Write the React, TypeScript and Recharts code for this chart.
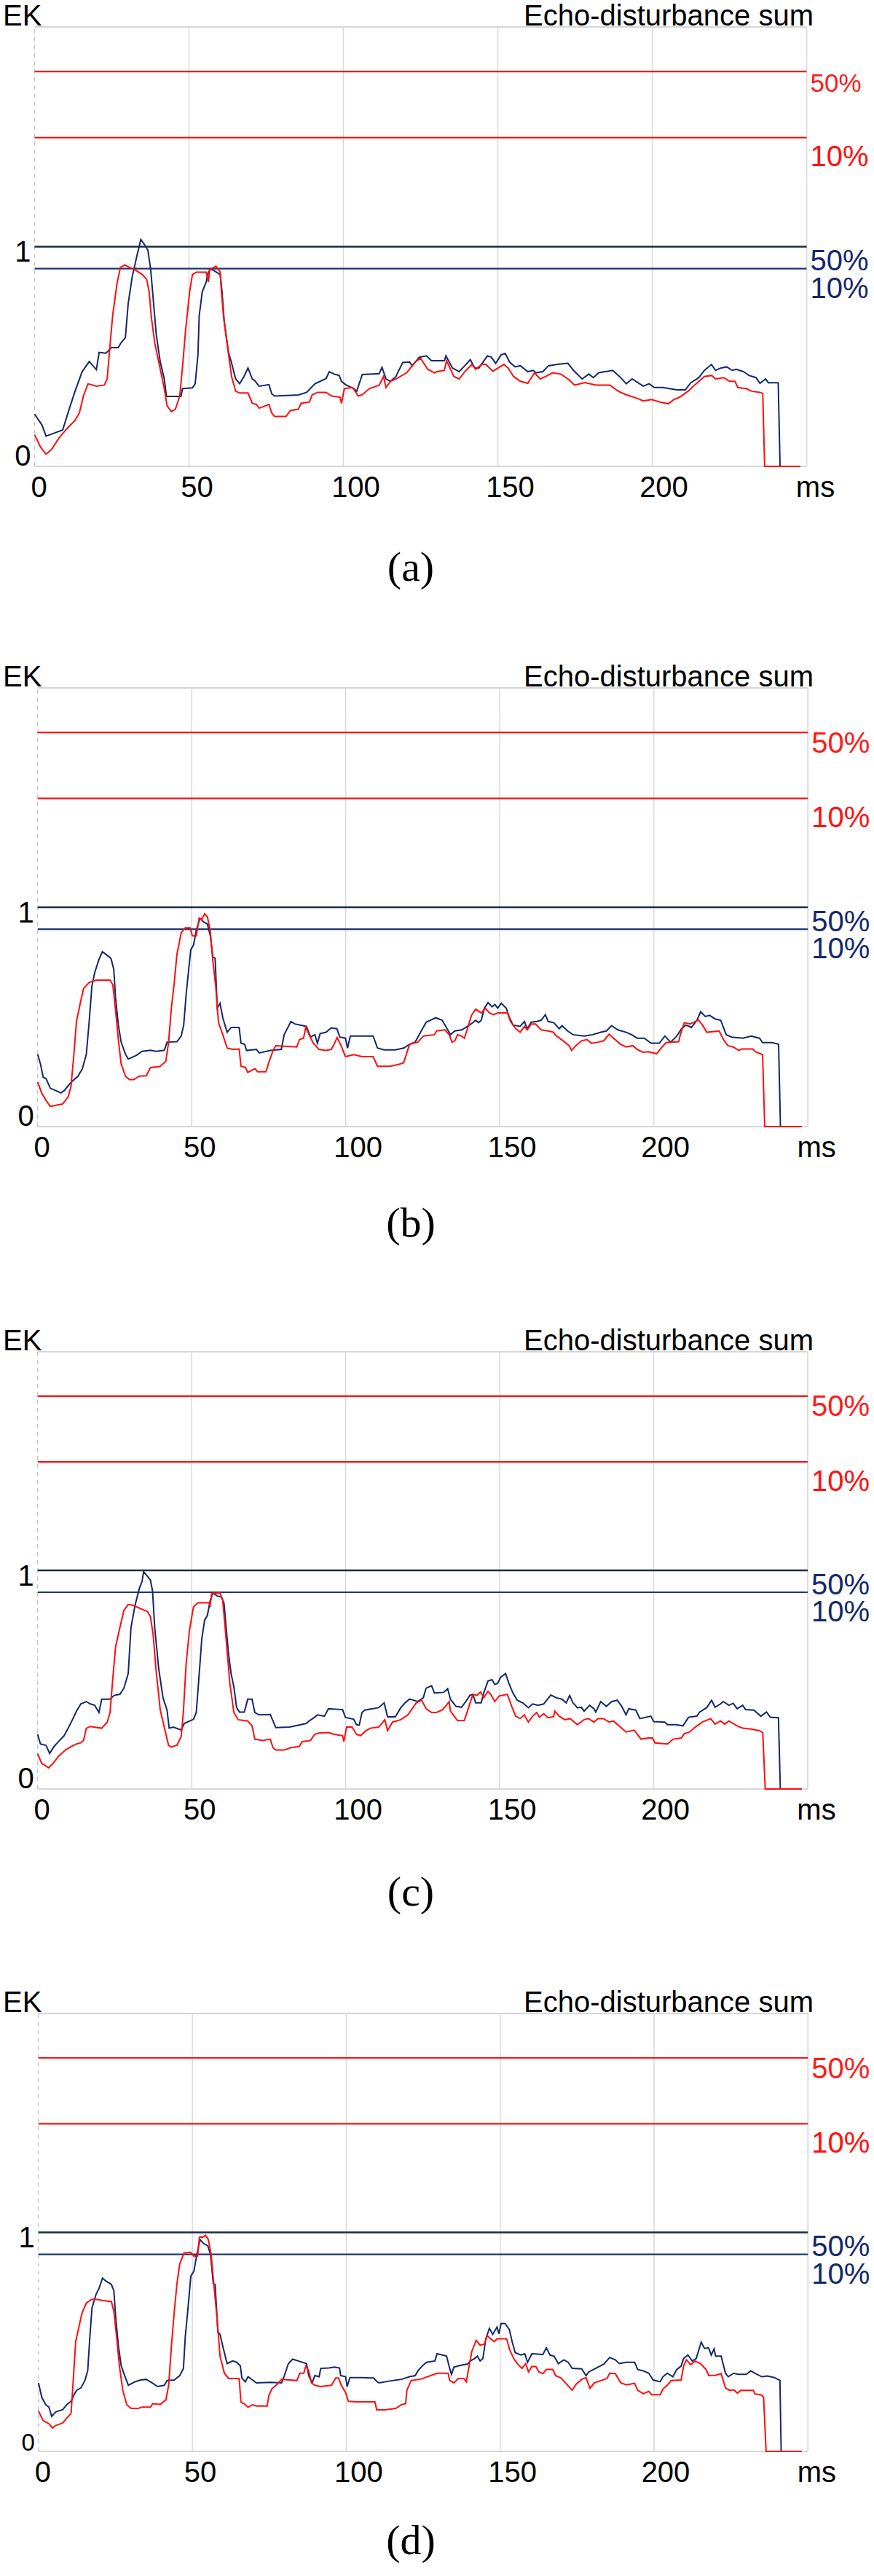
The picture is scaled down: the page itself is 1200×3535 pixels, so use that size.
import React from 'react';
import { LineChart, Line, XAxis, YAxis, ReferenceLine, CartesianGrid } from 'recharts';

type P = [number, number];

// ---------- panel (a) ----------
const blueA: P[] = [
  [0, 0.238], [2.4, 0.188], [3.7, 0.138], [5.9, 0.149], [9.1, 0.166], [11.3, 0.265], [13.1, 0.342], [15.4, 0.431],
  [17.7, 0.477], [20.0, 0.44], [20.9, 0.519], [23.1, 0.515], [24.9, 0.541], [27.1, 0.541], [28.0, 0.563], [29.4, 0.586],
  [30.3, 0.74], [31.6, 0.862], [33.0, 0.95], [34.4, 1.033], [35.8, 1.005], [36.7, 0.983], [37.6, 0.895], [39.4, 0.6],
  [40.7, 0.475], [42.0, 0.398], [42.7, 0.318], [47.4, 0.318], [47.9, 0.354], [51.1, 0.357], [52.0, 0.376], [52.9, 0.508],
  [53.3, 0.685], [54.3, 0.795], [55.6, 0.84], [56.0, 0.873], [56.9, 0.9], [58.3, 0.889], [60.1, 0.873], [60.7, 0.795],
  [61.4, 0.66], [62.8, 0.519], [63.7, 0.475], [65.1, 0.398], [66.4, 0.376], [67.8, 0.409], [69.1, 0.448], [70.5, 0.398],
  [71.3, 0.39], [72.7, 0.365], [75.9, 0.372], [76.8, 0.33], [77.7, 0.32], [85.4, 0.325], [88.1, 0.337], [90.8, 0.376],
  [94.4, 0.4], [95.4, 0.431], [97.0, 0.42], [98.6, 0.414], [99.4, 0.387], [100.7, 0.372], [103.4, 0.354], [104.3, 0.342],
  [106.1, 0.418], [111.6, 0.422], [112.5, 0.451], [113.8, 0.398], [115.2, 0.387], [117.0, 0.409], [119.2, 0.473],
  [121.4, 0.475], [122.3, 0.458], [124.6, 0.497], [126.9, 0.503], [128.5, 0.481], [130.3, 0.481], [132.7, 0.481],
  [133.2, 0.503], [135.3, 0.448], [137.5, 0.431], [139.3, 0.458], [141.1, 0.486], [142.5, 0.448], [143.9, 0.448],
  [146.6, 0.503], [147.9, 0.497], [149.3, 0.469], [151.1, 0.508], [152.4, 0.514], [153.8, 0.475], [155.6, 0.453],
  [157.3, 0.458], [159.7, 0.431], [161.5, 0.437], [162.3, 0.426], [164.6, 0.431], [166.4, 0.458], [169.1, 0.464],
  [172.7, 0.469], [174.5, 0.437], [177.3, 0.398], [179.5, 0.42], [180.9, 0.404], [182.7, 0.426], [187.2, 0.437],
  [189.4, 0.409], [191.6, 0.376], [193.5, 0.398], [197.1, 0.365], [199.0, 0.376], [200.7, 0.359], [203.4, 0.359],
  [208.0, 0.348], [210.7, 0.348], [212.5, 0.381], [215.1, 0.404], [216.9, 0.437], [219.2, 0.464], [220.5, 0.437],
  [222.3, 0.448], [224.1, 0.453], [225.9, 0.437], [227.2, 0.442], [229.6, 0.431], [231.3, 0.414], [233.6, 0.404],
  [234.9, 0.378], [236.7, 0.398], [237.6, 0.381], [240.8, 0.381], [241.4, 0], [248, 0],
];
const redA: P[] = [
  [0, 0.144], [1.9, 0.088], [3.7, 0.055], [5.5, 0.077], [7.8, 0.127], [10.4, 0.171], [13.1, 0.21], [14.5, 0.243],
  [15.8, 0.32], [17.3, 0.376], [20.0, 0.365], [22.6, 0.37], [23.5, 0.398], [24.5, 0.563], [25.3, 0.69], [25.8, 0.74],
  [26.7, 0.834], [27.8, 0.906], [29.2, 0.917], [30.7, 0.906], [32.5, 0.895], [34.9, 0.873], [36.3, 0.851], [37.1, 0.795],
  [37.8, 0.68], [38.9, 0.563], [40.7, 0.442], [42.0, 0.354], [42.9, 0.276], [44.3, 0.249], [45.6, 0.26], [47.0, 0.32],
  [47.9, 0.453], [48.9, 0.62], [50.2, 0.795], [51.1, 0.873], [52.4, 0.884], [55.6, 0.884], [56.3, 0.84], [56.7, 0.895],
  [58.7, 0.911], [60.1, 0.884], [60.5, 0.795], [61.2, 0.68], [62.3, 0.563], [63.8, 0.409], [65.1, 0.342], [66.4, 0.334],
  [69.1, 0.334], [70.5, 0.287], [71.8, 0.282], [72.7, 0.265], [75.9, 0.282], [76.8, 0.243], [77.7, 0.227], [81.4, 0.227],
  [82.8, 0.254], [85.4, 0.26], [86.3, 0.287], [89.0, 0.293], [89.9, 0.326], [91.7, 0.337], [94.4, 0.337], [96.2, 0.32],
  [98.9, 0.315], [99.4, 0.287], [100.3, 0.354], [103.0, 0.359], [104.8, 0.32], [106.1, 0.326], [108.4, 0.354],
  [111.6, 0.37], [113.0, 0.409], [113.8, 0.359], [115.2, 0.387], [117.0, 0.398], [120.5, 0.426], [123.2, 0.475],
  [125.0, 0.492], [127.3, 0.442], [129.5, 0.426], [130.3, 0.431], [132.7, 0.437], [133.4, 0.481], [135.8, 0.409],
  [137.5, 0.398], [139.3, 0.431], [141.6, 0.464], [142.9, 0.442], [144.8, 0.464], [146.1, 0.464], [148.4, 0.433],
  [152.0, 0.464], [153.3, 0.448], [155.1, 0.409], [157.3, 0.387], [159.7, 0.378], [161.9, 0.426], [163.7, 0.398],
  [165.5, 0.409], [167.7, 0.426], [170.4, 0.42], [172.7, 0.398], [174.9, 0.37], [178.2, 0.381], [181.8, 0.37],
  [186.3, 0.37], [189.0, 0.342], [191.6, 0.326], [195.3, 0.309], [197.1, 0.298], [199.8, 0.304], [202.5, 0.293],
  [205.2, 0.285], [207.0, 0.304], [208.9, 0.315], [211.6, 0.342], [214.2, 0.376], [216.9, 0.409], [219.2, 0.414],
  [220.5, 0.398], [223.2, 0.404], [225.0, 0.387], [226.8, 0.387], [227.7, 0.359], [230.5, 0.354], [232.2, 0.342],
  [234.9, 0.337], [235.8, 0.331], [236.4, 0], [248, 0],
];

// ---------- panel (b) ----------
const blueB: P[] = [
  [0, 0.33], [0.9, 0.286], [1.8, 0.225], [2.7, 0.219], [4.1, 0.175], [5.9, 0.164], [7.5, 0.153], [8.6, 0.164],
  [9.9, 0.186], [11.3, 0.208], [13.1, 0.23], [14.5, 0.263], [15.8, 0.33], [16.7, 0.474], [17.6, 0.64], [18.5, 0.701],
  [19.9, 0.762], [21.0, 0.797], [22.1, 0.786], [23.8, 0.767], [24.7, 0.718], [25.3, 0.585], [26.2, 0.463], [27.1, 0.385],
  [28.5, 0.33], [29.4, 0.308], [32.1, 0.325], [33.9, 0.343], [36.6, 0.348], [38.4, 0.343], [41.1, 0.348], [42.0, 0.385],
  [45.2, 0.387], [46.6, 0.413], [47.4, 0.463], [48.3, 0.618], [49.7, 0.806], [50.6, 0.828], [51.5, 0.895], [52.7, 0.95],
  [53.8, 0.934], [55.1, 0.923], [56.0, 0.873], [56.9, 0.773], [57.6, 0.768], [58.3, 0.54], [59.2, 0.562], [60.1, 0.496],
  [61.5, 0.43], [62.8, 0.452], [65.4, 0.452], [66.0, 0.38], [67.2, 0.375], [67.8, 0.347], [71.0, 0.352], [71.9, 0.336],
  [75.5, 0.347], [79.1, 0.352], [80.0, 0.419], [82.2, 0.479], [83.5, 0.468], [87.2, 0.457], [88.6, 0.408], [90.0, 0.419],
  [90.8, 0.38], [91.7, 0.424], [93.6, 0.43], [95.3, 0.45], [97.1, 0.446], [98.1, 0.408], [99.9, 0.403], [100.6, 0.358],
  [101.5, 0.413], [108.9, 0.413], [110.3, 0.358], [112.5, 0.35], [116.1, 0.35], [118.8, 0.358], [120.7, 0.375],
  [122.5, 0.385], [124.3, 0.43], [126.1, 0.476], [129.2, 0.496], [131.3, 0.485], [133.1, 0.441], [134.0, 0.419],
  [135.4, 0.436], [137.6, 0.441], [139.0, 0.452], [141.3, 0.474], [142.2, 0.485], [143.1, 0.474], [144.0, 0.485],
  [145.0, 0.54], [146.2, 0.565], [147.5, 0.546], [148.4, 0.557], [149.3, 0.54], [150.5, 0.562], [152.1, 0.54],
  [153.0, 0.502], [154.3, 0.463], [156.6, 0.457], [158.0, 0.479], [158.9, 0.446], [160.2, 0.476], [162.0, 0.479],
  [163.4, 0.485], [164.8, 0.51], [165.7, 0.479], [167.5, 0.474], [169.3, 0.446], [170.2, 0.46], [172.0, 0.436],
  [173.8, 0.419], [177.4, 0.413], [180.1, 0.419], [182.8, 0.43], [184.6, 0.436], [186.3, 0.46], [188.3, 0.441],
  [191.0, 0.43], [192.8, 0.419], [194.6, 0.403], [196.9, 0.403], [199.1, 0.38], [201.8, 0.38], [203.6, 0.413],
  [205.4, 0.385], [207.2, 0.408], [209.0, 0.446], [210.4, 0.463], [212.2, 0.452], [214.0, 0.485], [215.2, 0.524],
  [216.7, 0.502], [218.1, 0.507], [219.9, 0.491], [221.7, 0.485], [223.5, 0.419], [225.3, 0.408], [228.9, 0.403],
  [231.6, 0.413], [234.3, 0.403], [235.3, 0.383], [238.4, 0.383], [240.5, 0.375], [241.1, 0], [248, 0],
];
const redB: P[] = [
  [0, 0.203], [1.3, 0.153], [2.7, 0.12], [4.1, 0.092], [5.9, 0.097], [8.1, 0.103], [9.9, 0.136], [10.8, 0.181],
  [11.7, 0.319], [12.6, 0.479], [14.0, 0.574], [14.9, 0.629], [16.7, 0.657], [19.0, 0.668], [23.5, 0.668], [24.4, 0.646],
  [25.3, 0.529], [26.2, 0.396], [27.1, 0.286], [28.5, 0.23], [29.8, 0.214], [31.2, 0.214], [33.0, 0.23], [35.3, 0.232],
  [36.6, 0.269], [39.7, 0.274], [41.6, 0.297], [42.5, 0.385], [43.4, 0.54], [44.3, 0.651], [45.2, 0.784], [46.6, 0.884],
  [47.9, 0.906], [49.5, 0.906], [50.2, 0.87], [51.5, 0.87], [52.4, 0.95], [53.3, 0.945], [54.2, 0.97], [55.1, 0.956],
  [56.0, 0.895], [56.9, 0.751], [57.8, 0.64], [58.7, 0.474], [60.1, 0.419], [61.5, 0.358], [63.3, 0.352], [65.4, 0.354],
  [66.0, 0.275], [67.4, 0.27], [68.2, 0.247], [70.5, 0.264], [71.4, 0.25], [74.1, 0.25], [75.0, 0.291], [76.4, 0.347],
  [77.3, 0.369], [84.1, 0.363], [85.0, 0.397], [86.3, 0.403], [87.0, 0.452], [88.1, 0.419], [89.5, 0.38], [91.3, 0.352],
  [93.6, 0.347], [95.3, 0.352], [96.2, 0.375], [97.2, 0.406], [98.5, 0.369], [99.9, 0.319], [102.6, 0.328],
  [105.3, 0.319], [108.9, 0.319], [110.3, 0.275], [114.3, 0.275], [117.1, 0.283], [118.8, 0.291], [119.7, 0.33],
  [120.7, 0.375], [123.4, 0.385], [125.2, 0.413], [128.8, 0.419], [129.5, 0.436], [132.2, 0.441], [133.6, 0.419],
  [134.5, 0.385], [135.4, 0.391], [136.3, 0.419], [137.6, 0.413], [138.5, 0.403], [139.4, 0.441], [140.8, 0.507],
  [142.2, 0.535], [144.0, 0.518], [145.3, 0.54], [146.7, 0.518], [148.0, 0.51], [149.4, 0.518], [152.5, 0.518],
  [153.5, 0.479], [155.2, 0.446], [156.6, 0.43], [158.0, 0.457], [158.9, 0.441], [160.2, 0.468], [161.6, 0.468],
  [163.4, 0.441], [165.7, 0.436], [167.5, 0.43], [167.9, 0.419], [171.1, 0.385], [172.5, 0.369], [173.3, 0.347],
  [174.7, 0.369], [176.5, 0.391], [178.3, 0.397], [179.7, 0.38], [181.9, 0.385], [183.7, 0.391], [185.5, 0.421],
  [187.4, 0.397], [189.2, 0.375], [191.0, 0.363], [193.2, 0.369], [194.6, 0.352], [196.4, 0.339], [198.2, 0.341],
  [200.9, 0.332], [202.7, 0.363], [204.0, 0.383], [208.1, 0.387], [208.6, 0.419], [209.9, 0.474], [211.7, 0.468],
  [213.5, 0.479], [214.4, 0.487], [215.8, 0.463], [217.2, 0.43], [221.2, 0.436], [222.6, 0.397], [224.0, 0.369],
  [225.8, 0.363], [227.6, 0.347], [228.5, 0.354], [232.1, 0.354], [233.0, 0.341], [235.3, 0.328], [236.0, 0], [248, 0],
];

// ---------- panel (c) ----------
const blueC: P[] = [
  [0, 0.25], [0.9, 0.206], [2.7, 0.2], [3.9, 0.163], [5.4, 0.196], [6.8, 0.217], [8.6, 0.244], [9.9, 0.278],
  [11.3, 0.317], [12.6, 0.356], [14.0, 0.389], [15.8, 0.4], [17.1, 0.389], [18.5, 0.383], [19.9, 0.35], [20.8, 0.411],
  [23.5, 0.411], [24.8, 0.428], [26.7, 0.433], [28.0, 0.461], [29.4, 0.528], [30.3, 0.739], [31.6, 0.839], [33.0, 0.917],
  [33.9, 0.95], [34.4, 0.994], [35.7, 0.972], [36.6, 0.956], [37.3, 0.906], [38.0, 0.739], [39.3, 0.55], [40.7, 0.417],
  [42.0, 0.361], [42.7, 0.278], [44.0, 0.283], [46.6, 0.27], [47.6, 0.3], [50.6, 0.319], [51.5, 0.35], [52.4, 0.517],
  [53.3, 0.689], [54.2, 0.772], [55.1, 0.794], [56.0, 0.861], [56.9, 0.897], [58.3, 0.883], [59.7, 0.878], [60.5, 0.85],
  [61.9, 0.628], [62.8, 0.528], [63.7, 0.467], [64.6, 0.372], [65.5, 0.352], [67.1, 0.352], [68.2, 0.411], [69.6, 0.411],
  [70.5, 0.35], [71.9, 0.339], [75.5, 0.341], [76.4, 0.311], [77.3, 0.281], [81.8, 0.283], [85.4, 0.294], [87.2, 0.3],
  [88.1, 0.311], [89.9, 0.328], [90.8, 0.339], [93.1, 0.333], [94.4, 0.367], [99.0, 0.363], [99.9, 0.328],
  [102.6, 0.319], [103.5, 0.294], [104.4, 0.292], [105.3, 0.35], [106.2, 0.361], [110.7, 0.372], [112.5, 0.394],
  [113.6, 0.33], [116.1, 0.33], [117.9, 0.372], [119.3, 0.394], [120.7, 0.411], [121.6, 0.408], [123.4, 0.4],
  [125.2, 0.417], [126.1, 0.461], [127.9, 0.472], [128.8, 0.439], [131.8, 0.442], [133.1, 0.459], [134.0, 0.411],
  [135.8, 0.378], [137.6, 0.374], [139.0, 0.4], [140.3, 0.428], [141.3, 0.433], [142.2, 0.394], [144.0, 0.394],
  [144.8, 0.439], [146.2, 0.494], [147.5, 0.5], [148.4, 0.478], [149.3, 0.483], [150.3, 0.511], [151.9, 0.528],
  [153.0, 0.483], [154.3, 0.439], [155.7, 0.406], [157.5, 0.394], [159.3, 0.372], [160.7, 0.389], [162.5, 0.383],
  [164.3, 0.389], [166.6, 0.43], [168.4, 0.417], [170.2, 0.411], [171.6, 0.394], [172.7, 0.428], [173.8, 0.394],
  [175.2, 0.372], [176.5, 0.374], [177.4, 0.356], [179.2, 0.383], [180.6, 0.367], [181.2, 0.352], [182.8, 0.4],
  [184.6, 0.378], [186.4, 0.4], [188.2, 0.406], [189.6, 0.378], [191.0, 0.339], [191.9, 0.367], [194.2, 0.361],
  [195.5, 0.322], [199.1, 0.333], [200.0, 0.308], [203.6, 0.306], [204.5, 0.294], [207.2, 0.294], [209.5, 0.289],
  [211.3, 0.328], [214.0, 0.333], [214.9, 0.352], [217.2, 0.372], [218.8, 0.406], [219.9, 0.374], [221.7, 0.389],
  [222.6, 0.4], [224.4, 0.383], [225.8, 0.392], [227.1, 0.367], [228.9, 0.383], [229.8, 0.363], [232.5, 0.361],
  [234.8, 0.333], [236.6, 0.352], [237.9, 0.328], [240.5, 0.326], [241.1, 0], [248, 0],
];
const redC: P[] = [
  [0, 0.161], [1.3, 0.117], [3.6, 0.097], [5.0, 0.117], [6.8, 0.15], [9.0, 0.178], [10.8, 0.194], [12.6, 0.206],
  [14.0, 0.211], [14.9, 0.222], [15.8, 0.278], [17.1, 0.286], [20.8, 0.278], [22.6, 0.306], [23.5, 0.35], [24.4, 0.506],
  [25.3, 0.65], [26.7, 0.739], [28.0, 0.817], [29.4, 0.844], [31.2, 0.839], [33.9, 0.822], [35.7, 0.811], [36.6, 0.789],
  [37.5, 0.706], [38.4, 0.55], [39.8, 0.361], [41.1, 0.283], [42.5, 0.2], [43.4, 0.192], [45.2, 0.2], [46.6, 0.239],
  [47.3, 0.35], [48.2, 0.572], [49.3, 0.728], [50.6, 0.833], [52.0, 0.852], [55.6, 0.852], [56.0, 0.839], [56.5, 0.894],
  [59.2, 0.897], [60.1, 0.861], [61.0, 0.717], [62.4, 0.483], [63.7, 0.35], [65.1, 0.317], [68.2, 0.311], [69.6, 0.289],
  [70.5, 0.228], [73.2, 0.222], [75.5, 0.228], [76.4, 0.189], [77.3, 0.178], [80.0, 0.178], [82.2, 0.189], [84.9, 0.194],
  [85.9, 0.217], [88.6, 0.222], [89.9, 0.25], [91.3, 0.256], [94.4, 0.258], [96.2, 0.25], [99.0, 0.244], [99.4, 0.217],
  [100.3, 0.283], [102.1, 0.283], [103.5, 0.25], [104.8, 0.244], [106.6, 0.267], [108.0, 0.278], [110.7, 0.283],
  [112.1, 0.306], [112.7, 0.317], [113.6, 0.267], [115.2, 0.306], [117.9, 0.317], [120.2, 0.339], [121.6, 0.367],
  [122.9, 0.394], [124.7, 0.406], [126.1, 0.367], [127.9, 0.35], [129.5, 0.35], [131.3, 0.361], [132.7, 0.383],
  [133.6, 0.4], [134.0, 0.356], [136.3, 0.313], [138.5, 0.313], [139.9, 0.372], [141.3, 0.433], [142.6, 0.428],
  [143.8, 0.444], [144.8, 0.417], [146.2, 0.447], [147.1, 0.433], [148.4, 0.4], [149.8, 0.425], [152.5, 0.433],
  [153.9, 0.378], [155.2, 0.333], [156.6, 0.322], [158.0, 0.339], [159.3, 0.306], [160.7, 0.333], [162.0, 0.35],
  [162.9, 0.328], [164.3, 0.344], [165.7, 0.326], [167.5, 0.331], [167.9, 0.356], [169.3, 0.333], [171.1, 0.317],
  [172.9, 0.322], [175.2, 0.294], [177.4, 0.317], [178.8, 0.322], [180.6, 0.306], [181.9, 0.322], [183.7, 0.322],
  [185.5, 0.306], [186.9, 0.311], [189.2, 0.283], [191.0, 0.261], [193.7, 0.269], [195.9, 0.228], [198.2, 0.233],
  [199.6, 0.233], [200.4, 0.211], [204.5, 0.206], [206.3, 0.228], [209.0, 0.233], [209.9, 0.253], [211.7, 0.261],
  [213.5, 0.283], [215.8, 0.306], [218.5, 0.322], [219.9, 0.297], [221.7, 0.311], [223.1, 0.297], [224.4, 0.311],
  [227.1, 0.289], [228.9, 0.278], [231.6, 0.274], [234.3, 0.267], [235.4, 0.258], [236.2, 0], [248, 0],
];

// ---------- panel (d) ----------
const blueD: P[] = [
  [0, 0.313], [1.1, 0.246], [2.4, 0.213], [3.4, 0.202], [4.3, 0.16], [5.6, 0.18], [7.9, 0.191], [9.2, 0.213],
  [10.6, 0.229], [11.5, 0.257], [12.4, 0.279], [13.8, 0.29], [15.1, 0.324], [16.0, 0.368], [16.7, 0.523], [17.4, 0.656],
  [18.7, 0.717], [19.7, 0.745], [20.8, 0.791], [21.9, 0.778], [23.7, 0.762], [24.5, 0.734], [25.1, 0.612], [26.0, 0.479],
  [26.9, 0.39], [28.3, 0.335], [29.2, 0.302], [31.4, 0.318], [33.2, 0.326], [35.0, 0.329], [36.9, 0.313], [38.7, 0.296],
  [40.9, 0.302], [41.8, 0.324], [44.1, 0.326], [45.9, 0.346], [47.1, 0.379], [47.7, 0.523], [48.6, 0.656], [49.5, 0.8],
  [50.5, 0.823], [51.4, 0.895], [52.5, 0.967], [53.6, 0.95], [55.0, 0.939], [55.9, 0.9], [56.8, 0.767], [57.4, 0.762],
  [58.3, 0.545], [59.0, 0.534], [59.9, 0.479], [61.3, 0.401], [63.1, 0.413], [64.4, 0.407], [65.6, 0.39], [66.1, 0.335],
  [67.2, 0.318], [68.1, 0.341], [70.8, 0.313], [75.4, 0.315], [79.0, 0.313], [79.9, 0.346], [81.2, 0.401], [82.6, 0.421],
  [84.4, 0.413], [87.1, 0.401], [87.8, 0.346], [88.9, 0.313], [89.8, 0.346], [91.2, 0.341], [91.7, 0.379], [94.4, 0.381],
  [96.2, 0.385], [97.8, 0.381], [98.2, 0.346], [99.8, 0.341], [100.3, 0.296], [101.2, 0.337], [105.2, 0.337],
  [108.9, 0.335], [110.0, 0.318], [110.7, 0.313], [115.2, 0.324], [117.9, 0.329], [120.6, 0.341], [122.4, 0.346],
  [123.3, 0.368], [124.7, 0.39], [126.1, 0.407], [128.8, 0.413], [129.5, 0.446], [131.3, 0.44], [132.6, 0.435],
  [133.6, 0.379], [134.2, 0.352], [135.0, 0.385], [136.8, 0.392], [139.4, 0.399], [140.3, 0.413], [141.7, 0.424],
  [142.6, 0.435], [143.5, 0.413], [144.4, 0.424], [145.3, 0.512], [146.5, 0.562], [147.6, 0.534], [149.0, 0.568],
  [149.6, 0.537], [150.3, 0.584], [151.6, 0.584], [153.0, 0.556], [153.9, 0.501], [154.9, 0.451], [156.7, 0.44],
  [158.0, 0.446], [158.9, 0.407], [160.3, 0.446], [163.9, 0.443], [165.0, 0.473], [166.2, 0.44], [167.5, 0.435],
  [168.9, 0.401], [170.7, 0.418], [172.1, 0.407], [173.4, 0.379], [176.5, 0.377], [177.9, 0.346], [178.8, 0.363],
  [181.0, 0.379], [183.7, 0.399], [185.6, 0.429], [187.4, 0.418], [188.7, 0.401], [191.0, 0.407], [193.7, 0.407],
  [194.7, 0.374], [196.5, 0.368], [198.3, 0.357], [199.7, 0.326], [202.0, 0.318], [202.9, 0.341], [204.3, 0.357],
  [206.1, 0.341], [207.4, 0.374], [208.8, 0.39], [209.6, 0.424], [211.0, 0.44], [212.4, 0.413], [213.7, 0.424],
  [215.3, 0.499], [216.4, 0.47], [217.7, 0.473], [218.6, 0.44], [219.5, 0.468], [220.0, 0.435], [221.8, 0.435],
  [223.2, 0.357], [224.1, 0.341], [225.9, 0.357], [227.3, 0.352], [230.0, 0.352], [231.4, 0.368], [232.7, 0.357],
  [235.0, 0.341], [236.8, 0.344], [239.1, 0.337], [240.9, 0.324], [241.3, 0], [248, 0],
];
const redD: P[] = [
  [0, 0.185], [1.5, 0.141], [2.9, 0.13], [3.6, 0.124], [4.5, 0.107], [5.6, 0.118], [7.9, 0.13], [9.2, 0.152],
  [10.6, 0.174], [11.2, 0.302], [12.1, 0.501], [13.3, 0.579], [14.2, 0.634], [15.6, 0.678], [17.4, 0.695], [18.7, 0.695],
  [21.0, 0.689], [23.7, 0.684], [24.5, 0.64], [25.4, 0.523], [26.3, 0.39], [27.4, 0.279], [28.7, 0.213], [30.1, 0.196],
  [32.3, 0.196], [33.7, 0.202], [36.4, 0.202], [37.1, 0.218], [39.6, 0.215], [41.4, 0.235], [42.3, 0.302], [43.2, 0.479],
  [44.1, 0.634], [45.0, 0.767], [45.9, 0.856], [47.3, 0.906], [49.4, 0.909], [50.5, 0.892], [51.7, 0.892], [52.3, 0.978],
  [53.4, 0.978], [54.3, 0.987], [55.2, 0.967], [56.1, 0.9], [57.1, 0.745], [58.0, 0.612], [59.0, 0.435], [60.4, 0.357],
  [61.8, 0.333], [65.2, 0.333], [65.8, 0.224], [66.8, 0.218], [68.1, 0.202], [69.5, 0.213], [70.8, 0.207], [74.3, 0.207],
  [74.9, 0.257], [75.8, 0.285], [77.2, 0.302], [79.0, 0.329], [84.0, 0.324], [84.9, 0.357], [86.2, 0.357], [86.9, 0.39],
  [87.8, 0.368], [88.7, 0.313], [89.8, 0.302], [91.6, 0.296], [95.2, 0.302], [96.6, 0.335], [97.5, 0.335], [98.4, 0.302],
  [99.8, 0.268], [100.7, 0.229], [103.4, 0.226], [109.3, 0.226], [109.9, 0.19], [112.5, 0.19], [116.1, 0.196],
  [117.9, 0.213], [119.3, 0.218], [119.7, 0.279], [121.1, 0.324], [123.8, 0.329], [125.2, 0.335], [129.5, 0.357],
  [133.1, 0.357], [133.6, 0.324], [135.0, 0.313], [136.4, 0.333], [138.2, 0.333], [139.0, 0.318], [139.5, 0.357],
  [140.8, 0.457], [142.2, 0.507], [143.5, 0.485], [144.9, 0.49], [145.8, 0.529], [147.1, 0.512], [148.1, 0.501],
  [149.0, 0.514], [152.1, 0.514], [153.0, 0.468], [154.4, 0.424], [155.7, 0.399], [157.1, 0.379], [158.3, 0.401],
  [159.2, 0.363], [160.3, 0.388], [161.6, 0.388], [162.6, 0.363], [163.9, 0.355], [165.0, 0.374], [167.1, 0.374],
  [168.0, 0.346], [169.8, 0.335], [171.2, 0.313], [173.4, 0.279], [174.7, 0.307], [176.5, 0.329], [177.9, 0.337],
  [179.2, 0.288], [180.6, 0.313], [182.9, 0.324], [184.7, 0.333], [185.6, 0.357], [187.4, 0.355], [189.2, 0.313],
  [191.0, 0.304], [193.7, 0.311], [194.7, 0.279], [196.5, 0.263], [198.3, 0.274], [199.2, 0.259], [202.0, 0.259],
  [202.9, 0.285], [204.3, 0.302], [205.6, 0.324], [208.8, 0.326], [209.6, 0.39], [210.5, 0.418], [211.9, 0.396],
  [213.3, 0.413], [215.1, 0.401], [216.9, 0.374], [217.8, 0.346], [220.0, 0.348], [221.8, 0.355], [223.2, 0.29],
  [224.5, 0.279], [225.9, 0.281], [227.1, 0.266], [228.2, 0.279], [232.3, 0.279], [232.7, 0.263], [235.0, 0.257],
  [235.6, 0.246], [236.4, 0], [248, 0],
];

// ---------- axes, thresholds, labels ----------
const xTicks = [0, 50, 100, 150, 200, 250];
const xTickLabels = ['0', '50', '100', '150', '200', 'ms'];
const xTickShift = [6, 11, 17, 17, 16, 12];
const yTicks = [0, 1];
const gridXs = [50, 100, 150, 200];
const frameYs = [0, 2];
const thresholdValues = [1.797, 1.496, 1.0, 0.9];
const thresholdLabels = ['50%', '10%', '50%', '10%'];
const thresholdStroke = ['#ff1010', '#ff1010', '#1d2b47', '#1f3673'];
const thresholdWidth = [2.2, 2.2, 2.6, 2.2];
const thresholdTextColor = ['#ff1a1a', '#ff1010', '#13296b', '#13296b'];
const thresholdTextDy = [27.5, 39.5, 32.5, 40];
const captions = ['(a)', '(b)', '(c)', '(d)'];

const SANS = "'Liberation Sans', Arial, Helvetica, sans-serif";
const SERIF = "'Liberation Serif', 'Times New Roman', serif";
const RED = '#ff0d0d';
const NAVY = '#13296b';
const CHART_H = 815;
const PLOT_TOP = 37;
const XAXIS_H = 60;

const rows = (pts: P[]) => pts.map(([t, v]) => ({ t, v }));

const panels = [
  { top: 0, x0: 47.5, plotW: 1060, plotH: 603, blue: blueA, red: redA, capY: 797, zeroSize: 40, red50Size: 35 },
  { top: 907, x0: 51.7, plotW: 1057.5, plotH: 602, blue: blueB, red: redB, capY: 790, zeroSize: 40, red50Size: 40 },
  { top: 1818, x0: 51.7, plotW: 1057.3, plotH: 600, blue: blueC, red: redC, capY: 797, zeroSize: 40, red50Size: 40 },
  { top: 2726, x0: 52.8, plotW: 1056.5, plotH: 601, blue: blueD, red: redD, capY: 779, zeroSize: 33, red50Size: 40 },
];

function XTick(props: any) {
  const { x, y, payload } = props;
  const i = xTicks.indexOf(payload.value);
  return (
    <text x={x + (xTickShift[i] ?? 0)} y={y + 42} textAnchor="middle" fontSize={40} fontFamily={SANS} fill="#000">
      {xTickLabels[i]}
    </text>
  );
}

function makeYTick(zeroSize: number) {
  return function YTick(props: any) {
    const { x, y, payload } = props;
    const isZero = payload.value === 0;
    return (
      <text
        x={x - 5}
        y={isZero ? y - 1 : y + 20.5}
        textAnchor="end"
        fontSize={isZero ? zeroSize : 40}
        fontFamily={SANS}
        fill="#000"
      >
        {String(payload.value)}
      </text>
    );
  };
}

function makeThresholdLabel(i: number, size: number) {
  return function ThresholdLabel(props: any) {
    const vb = props.viewBox || {};
    const x = (vb.x ?? 0) + (vb.width ?? 0) + 5;
    const y = (vb.y ?? 0) + thresholdTextDy[i];
    return (
      <text x={x} y={y} fontSize={size} fontFamily={SANS} fill={thresholdTextColor[i]}>
        {thresholdLabels[i]}
      </text>
    );
  };
}

function Panel({ cfg, index }: { cfg: (typeof panels)[number]; index: number }) {
  const right = 1200 - cfg.x0 - cfg.plotW;
  const bottom = CHART_H - PLOT_TOP - cfg.plotH - XAXIS_H;
  return (
    <div style={{ position: 'absolute', left: 0, top: cfg.top, width: 1200, height: CHART_H }}>
      <LineChart width={1200} height={CHART_H} margin={{ top: PLOT_TOP, right, bottom, left: 0 }}>
        <CartesianGrid
          horizontal={false}
          vertical
          verticalValues={gridXs}
          stroke="#d9d9d9"
          strokeWidth={1.5}
        />
        <CartesianGrid
          vertical={false}
          horizontal
          horizontalValues={frameYs}
          stroke="#d6d6d6"
          strokeWidth={2.2}
        />
        <XAxis
          type="number"
          dataKey="t"
          domain={[0, 250]}
          ticks={xTicks}
          interval={0}
          tick={XTick}
          tickLine={false}
          tickSize={0}
          tickMargin={0}
          height={XAXIS_H}
          axisLine={false}
        />
        <YAxis
          type="number"
          domain={[0, 2]}
          ticks={yTicks}
          interval={0}
          width={cfg.x0}
          tick={makeYTick(cfg.zeroSize)}
          tickLine={false}
          tickSize={0}
          tickMargin={0}
          axisLine={false}
        />
        <ReferenceLine x={0} stroke="#c2c2c2" strokeWidth={1.2} strokeDasharray="6 5" />
        <ReferenceLine x={250} stroke="#dddddd" strokeWidth={2} />
        {thresholdValues.map((v, i) => (
          <ReferenceLine
            key={'th' + i}
            y={v}
            stroke={thresholdStroke[i]}
            strokeWidth={thresholdWidth[i]}
            label={makeThresholdLabel(i, i === 0 ? cfg.red50Size : 40)}
          />
        ))}
        <Line
          data={rows(cfg.blue)}
          dataKey="v"
          type="linear"
          stroke={NAVY}
          strokeWidth={2}
          dot={false}
          activeDot={false}
          isAnimationActive={false}
        />
        <Line
          data={rows(cfg.red)}
          dataKey="v"
          type="linear"
          stroke={RED}
          strokeWidth={2}
          dot={false}
          activeDot={false}
          isAnimationActive={false}
        />
      </LineChart>
      <svg
        width={1200}
        height={CHART_H}
        style={{ position: 'absolute', left: 0, top: 0, pointerEvents: 'none', overflow: 'visible' }}
      >
        <text x={4} y={35} fontSize={40} fontFamily={SANS} fill="#000">
          EK
        </text>
        <text x={1117} y={35} fontSize={40} fontFamily={SANS} fill="#000" textAnchor="end">
          Echo-disturbance sum
        </text>
        <text x={564} y={cfg.capY} fontSize={58} fontFamily={SERIF} fill="#000" textAnchor="middle">
          {captions[index]}
        </text>
      </svg>
    </div>
  );
}

export default function App() {
  return (
    <div style={{ position: 'relative', width: 1200, height: 3535, overflow: 'hidden', background: '#fff' }}>
      <style>{'body{margin:0;background:#fff}'}</style>
      {panels.map((cfg, i) => (
        <Panel key={i} cfg={cfg} index={i} />
      ))}
    </div>
  );
}
